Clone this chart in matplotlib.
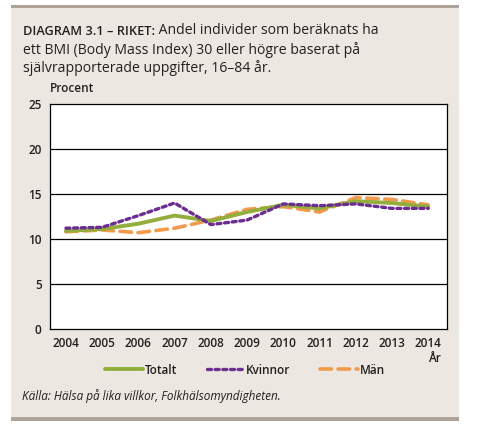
import matplotlib
matplotlib.use("Agg")
import matplotlib.pyplot as plt
from matplotlib.patches import Rectangle

# data
ar = [2004, 2005, 2006, 2007, 2008, 2009, 2010, 2011, 2012, 2013, 2014]
totalt = [10.9, 11.1, 11.7, 12.6, 12.0, 13.0, 13.8, 13.4, 14.2, 14.0, 13.6]
kvinnor = [11.2, 11.3, 12.6, 14.0, 11.6, 12.1, 13.9, 13.7, 13.9, 13.4, 13.4]
man = [10.8, 11.0, 10.7, 11.2, 12.1, 13.3, 13.6, 13.0, 14.6, 14.4, 13.8]
yticks = [0, 5, 10, 15, 20, 25]

plt.rcParams['font.family'] = ['Open Sans', 'DejaVu Sans']

bg = '#ECE7E1'
brun = '#ADA398'
gron = '#93AE3C'
lila = '#6B2D8F'
orange = '#F29A4C'
text_col = '#231F20'

fig = plt.figure(figsize=(4.79, 4.40), dpi=100)
fig.patch.set_facecolor('white')

W, H = 479, 440
def fx(px):
    return px / W
def fy(py):
    return 1 - py / H

# panel bakgrund och kantlinjer
for (x0, y0, x1, y1, c) in [(11, 7, 459, 418, bg), (11, 5, 459, 8, brun), (11, 417, 459, 421, brun)]:
    fig.patches.append(Rectangle((fx(x0), fy(y1)), fx(x1) - fx(x0), fy(y0) - fy(y1),
                                 transform=fig.transFigure, facecolor=c,
                                 edgecolor='none', zorder=-10))

ax = fig.add_axes([fx(50), fy(329), fx(447) - fx(50), fy(104) - fy(329)])
ax.set_facecolor('white')

# rubrik
t1 = fig.text(fx(23), fy(35), "DIAGRAM 3.1 – RIKET:", fontsize=9.2, fontweight='semibold',
              color=text_col, va='baseline')
ax.annotate(" Andel individer som beräknats ha", xy=(1, 0), xycoords=t1,
            fontsize=10.1, color=text_col, va='bottom', ha='left',
            annotation_clip=False)
fig.text(fx(23), fy(54), "ett BMI (Body Mass Index) 30 eller högre baserat på",
         fontsize=10.1, color=text_col, va='baseline')
fig.text(fx(23), fy(72), "självrapporterade uppgifter, 16–84 år.",
         fontsize=10.1, color=text_col, va='baseline')

ax.plot(ar, totalt, color=gron, lw=2.8, solid_capstyle='round', label='Totalt', zorder=3)
ax.plot(ar, kvinnor, color=lila, lw=2.4, linestyle=(0, (1.2, 1.1)),
        dash_capstyle='round', label='Kvinnor', zorder=4)
ax.plot(ar, man, color=orange, lw=2.6, linestyle=(0, (3.2, 1.8)),
        dash_capstyle='round', label='Män', zorder=2)

ax.set_xlim(2003.56, 2014.52)
ax.set_ylim(0, 25)
ax.set_xticks(ar)
ax.set_yticks(yticks)
ax.tick_params(length=0, labelsize=8.5, colors=text_col, pad=6)
for lab in ax.get_xticklabels() + ax.get_yticklabels():
    lab.set_fontweight('semibold')
for y in yticks[1:-1]:
    ax.axhline(y, color='black', lw=0.9, zorder=1)
for s in ax.spines.values():
    s.set_color('black')
    s.set_linewidth(0.9)

fig.text(fx(50), fy(92), "Procent", fontsize=8.5, fontweight='semibold',
         color=text_col, va='baseline')
fig.text(fx(441), fy(362), "År", fontsize=8.5, fontweight='semibold',
         color=text_col, va='baseline', ha='right')

leg = ax.legend(loc='center', bbox_to_anchor=(fx(245), fy(370)),
                bbox_transform=fig.transFigure, ncol=3, frameon=False,
                fontsize=8.5, handlelength=3.2, handletextpad=0.15,
                columnspacing=2.5)
for t in leg.get_texts():
    t.set_color(text_col)
    t.set_fontweight('semibold')

fig.text(fx(22), fy(400), "Källa: Hälsa på lika villkor, Folkhälsomyndigheten.",
         fontsize=8.5, style='italic', color=text_col, va='baseline')

fig.savefig('out.png', dpi=100, facecolor=fig.get_facecolor())
